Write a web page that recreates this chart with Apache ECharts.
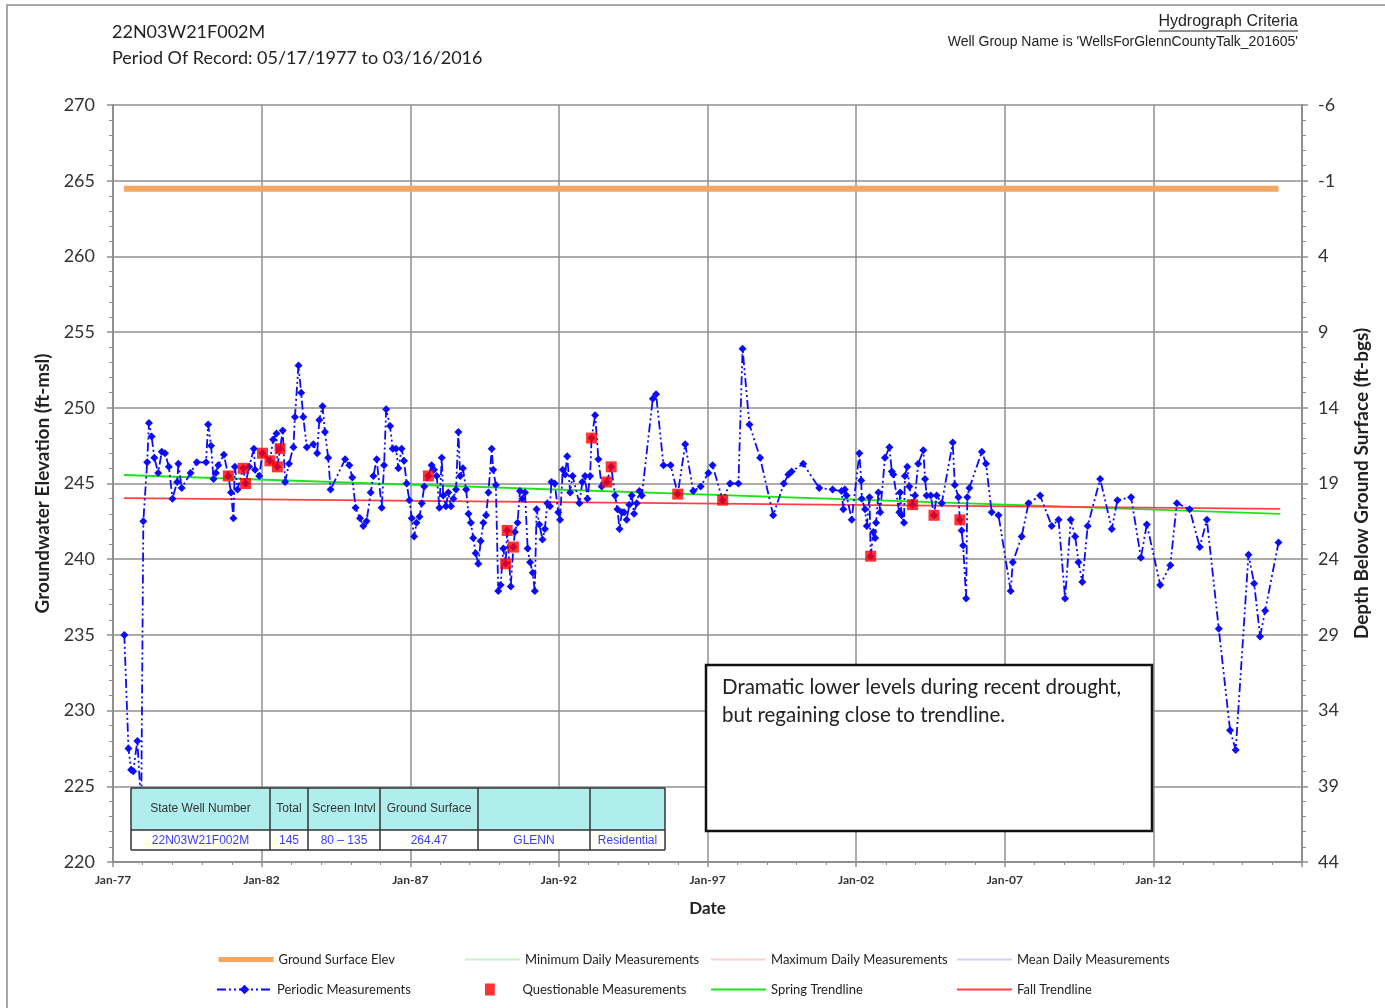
<!DOCTYPE html>
<html>
<head>
<meta charset="utf-8">
<title>22N03W21F002M Hydrograph</title>
<script src="https://cdn.jsdelivr.net/npm/echarts@6/dist/echarts.min.js"></script>
<style>
  html, body { margin: 0; padding: 0; background: #fff; }
  #chart { width: 1385px; height: 1008px; }
</style>
</head>
<body>
<div id="chart"></div>
<script>
// well info
const wellId = '22N03W21F002M'
const periodText = 'Period Of Record: 05/17/1977 to 03/16/2016'
const groupText = "Well Group Name is 'WellsForGlennCountyTalk_201605'"
const noteLines = ['Dramatic lower levels during recent drought,', 'but regaining close to trendline.']
const tableHeaders = ['State Well Number', 'Total', 'Screen Intvl', 'Ground Surface', '', '']
const tableValues = ['22N03W21F002M', '145', '80 \u2013 135', '264.47', 'GLENN', 'Residential']

// axis ticks
const xTickLabels = ['Jan-77', 'Jan-82', 'Jan-87', 'Jan-92', 'Jan-97', 'Jan-02', 'Jan-07', 'Jan-12', 'Jan-17']
const depthTickLabels = ['-6', '-1', '4', '9', '14', '19', '24', '29', '34', '39', '44']

// ground surface + trendlines (decimal years)
const groundSurfaceElev = 264.47
const recordDates = [1977.37, 2016.21]
const trendDates = [1977.37, 2016.27]
const springTrendElev = [245.56, 242.99]
const fallTrendElev = [244.04, 243.32]

// periodic measurements
const periodicDates = [
  1977.38, 1977.52, 1977.61, 1977.68, 1977.82, 1977.95, 1978.02, 1978.15, 1978.21, 1978.30,
  1978.39, 1978.52, 1978.64, 1978.75, 1978.88, 1979.00, 1979.16, 1979.20, 1979.31, 1979.61,
  1979.82, 1980.13, 1980.20, 1980.30, 1980.38, 1980.46, 1980.54, 1980.73, 1980.97, 1981.05,
  1981.10, 1981.19, 1981.58, 1981.74, 1981.78, 1981.92, 1982.39, 1982.50, 1982.71, 1982.79,
  1982.92, 1983.07, 1983.12, 1983.24, 1983.33, 1983.40, 1983.52, 1983.74, 1983.87, 1983.94,
  1984.05, 1984.13, 1984.24, 1984.32, 1984.81, 1984.95, 1985.05, 1985.16, 1985.31, 1985.42,
  1985.53, 1985.67, 1985.76, 1985.87, 1986.04, 1986.12, 1986.19, 1986.32, 1986.41, 1986.52,
  1986.60, 1986.71, 1986.79, 1986.88, 1986.97, 1987.05, 1987.13, 1987.21, 1987.31, 1987.39,
  1987.47, 1987.72, 1987.80, 1987.89, 1987.98, 1988.06, 1988.11, 1988.20, 1988.28, 1988.37,
  1988.45, 1988.54, 1988.62, 1988.68, 1988.77, 1988.88, 1988.96, 1989.04, 1989.12, 1989.20,
  1989.29, 1989.37, 1989.46, 1989.55, 1989.63, 1989.74, 1989.79, 1989.88, 1989.96, 1990.04,
  1990.13, 1990.38, 1990.52, 1990.61, 1990.69, 1990.77, 1990.86, 1990.95, 1991.03, 1991.12,
  1991.19, 1991.25, 1991.34, 1991.45, 1991.53, 1991.61, 1991.70, 1991.75, 1991.86, 1991.98,
  1992.04, 1992.13, 1992.21, 1992.28, 1992.38, 1992.46, 1992.69, 1992.79, 1992.88, 1992.96,
  1993.05, 1993.22, 1993.33, 1993.44, 1993.89, 1993.97, 1994.04, 1994.12, 1994.19, 1994.28,
  1994.37, 1994.45, 1994.53, 1994.62, 1994.71, 1994.79, 1995.16, 1995.27, 1995.52, 1995.76,
  1996.25, 1996.52, 1996.77, 1997.03, 1997.17, 1997.76, 1998.04, 1998.18, 1998.41, 1998.77,
  1999.21, 1999.57, 1999.72, 1999.83, 2000.22, 2000.76, 2001.21, 2001.51, 2001.57, 2001.62,
  2001.68, 2001.85, 2002.11, 2002.17, 2002.19, 2002.30, 2002.36, 2002.45, 2002.58, 2002.64,
  2002.67, 2002.75, 2002.81, 2002.97, 2003.12, 2003.20, 2003.25, 2003.45, 2003.48, 2003.53,
  2003.61, 2003.64, 2003.72, 2003.79, 2003.98, 2004.09, 2004.26, 2004.32, 2004.37, 2004.51,
  2004.71, 2004.88, 2005.25, 2005.32, 2005.44, 2005.55, 2005.60, 2005.70, 2005.74, 2005.81,
  2006.23, 2006.37, 2006.56, 2006.79, 2007.20, 2007.27, 2007.57, 2007.80, 2008.19, 2008.58,
  2008.81, 2009.03, 2009.22, 2009.37, 2009.48, 2009.61, 2009.79, 2010.21, 2010.60, 2010.79,
  2011.25, 2011.58, 2011.78, 2012.23, 2012.57, 2012.79, 2013.22, 2013.56, 2013.80, 2014.20,
  2014.58, 2014.77, 2015.20, 2015.39, 2015.59, 2015.76, 2016.21
]
const periodicElev = [
  235.0, 227.5, 226.1, 226.0, 228.0, 223.5, 242.5, 246.4, 249.0, 248.1,
  246.7, 245.7, 247.1, 247.0, 246.1, 244.0, 245.1, 246.3, 244.7, 245.7,
  246.4, 246.4, 248.9, 247.5, 245.3, 245.7, 246.2, 246.9, 244.4, 242.7,
  246.1, 244.6, 246.1, 247.3, 245.9, 245.5, 247.9, 248.3, 248.5, 245.1,
  246.3, 247.4, 249.4, 252.8, 251.0, 249.4, 247.4, 247.6, 247.0, 249.2,
  250.1, 248.4, 246.7, 244.6, 246.6, 246.2, 245.4, 243.4, 242.7, 242.2,
  242.5, 244.4, 245.5, 246.6, 243.4, 246.2, 249.9, 248.8, 247.3, 247.3,
  246.0, 247.3, 246.5, 245.0, 243.9, 242.7, 241.5, 242.4, 242.8, 243.7,
  244.8, 246.2, 245.9, 245.5, 243.4, 246.7, 244.2, 243.5, 244.4, 243.5,
  244.0, 244.6, 248.4, 245.5, 246.0, 244.6, 243.0, 242.4, 241.4, 240.4,
  239.7, 241.2, 242.4, 242.9, 244.4, 247.3, 245.9, 244.9, 237.9, 238.3,
  240.7, 238.2, 241.8, 242.4, 244.5, 244.0, 244.4, 240.7, 239.8, 239.1,
  237.9, 243.3, 242.3, 241.3, 242.0, 243.7, 243.5, 245.1, 245.0, 243.1,
  242.6, 245.9, 245.6, 246.8, 244.4, 245.5, 243.7, 245.1, 245.5, 244.0,
  245.5, 249.5, 246.6, 244.8, 244.2, 243.3, 242.0, 243.1, 243.1, 242.6,
  243.6, 244.2, 243.0, 243.7, 244.5, 244.2, 250.6, 250.9, 246.2, 246.2,
  247.6, 244.5, 244.8, 245.7, 246.2, 245.0, 245.0, 253.9, 248.9, 246.7,
  242.9, 245.0, 245.6, 245.8, 246.3, 244.7, 244.6, 244.5, 243.3, 244.6,
  244.2, 242.6, 247.0, 245.2, 244.0, 243.3, 242.2, 244.1, 241.8, 241.4,
  242.4, 244.4, 243.1, 246.7, 247.4, 245.8, 245.6, 243.1, 244.4, 242.9,
  242.4, 245.5, 246.1, 244.8, 244.2, 246.3, 247.2, 245.3, 244.2, 244.2,
  244.2, 243.7, 247.7, 244.9, 244.1, 241.9, 240.9, 237.4, 244.1, 244.7,
  247.1, 246.3, 243.1, 242.9, 237.9, 239.8, 241.5, 243.7, 244.2, 242.2,
  242.6, 237.4, 242.6, 241.5, 239.8, 238.5, 242.2, 245.3, 242.0, 243.9,
  244.1, 240.1, 242.3, 238.3, 239.6, 243.7, 243.3, 240.8, 242.6, 235.4,
  228.7, 227.4, 240.3, 238.4, 234.9, 236.6, 241.1
]

// questionable measurements
const questionableDates = [
  1980.88, 1981.38, 1981.46, 1982.03, 1982.28, 1982.53, 1982.62, 1987.61, 1990.21, 1990.26,
  1990.47, 1993.10, 1993.61, 1993.76, 1996.00, 1997.51, 2002.49, 2003.90, 2004.62, 2005.49
]
const questionableElev = [
  245.5, 246.0, 245.0, 247.0, 246.5, 246.1, 247.3, 245.5, 239.7, 241.9,
  240.8, 248.0, 245.1, 246.1, 244.3, 243.9, 240.2, 243.6, 242.9, 242.6
]

// the periodic line runs through every reading, questionable ones included
const allReadings = periodicDates.map((d, i) => [d, periodicElev[i]])
  .concat(questionableDates.map((d, i) => [d, questionableElev[i]]))
  .sort((a, b) => a[0] - b[0])

const calibri = 'Lato, "Open Sans", sans-serif'
const arialNarrow = '"Liberation Sans Narrow", "Liberation Sans", Arial, sans-serif'
const arial = '"Liberation Sans", Arial, sans-serif'
const gridColor = '#8f8f8f'

const chart = echarts.init(document.getElementById('chart'), null, { renderer: 'canvas' })

// measure text so the underline fits the heading
const measureCtx = document.createElement('canvas').getContext('2d')
function textWidth(txt, font) {
  measureCtx.font = font
  return measureCtx.measureText(txt).width
}

// table drawn on top of the plot
const colEdges = [131, 270, 308, 380, 478, 590, 665]
const tableTop = 788, headBottom = 830, tableBottom = 850
const tableGraphics = []
tableGraphics.push({
  type: 'rect', z: 100,
  shape: { x: colEdges[0], y: tableTop, width: colEdges[6] - colEdges[0], height: headBottom - tableTop },
  style: { fill: '#b0eded' }
})
tableGraphics.push({
  type: 'rect', z: 100,
  shape: { x: colEdges[0], y: headBottom, width: colEdges[6] - colEdges[0], height: tableBottom - headBottom },
  style: { fill: '#fff' }
})
tableHeaders.forEach((h, i) => {
  const cx = (colEdges[i] + colEdges[i + 1]) / 2
  tableGraphics.push({
    type: 'text', z: 102, x: cx, y: (tableTop + headBottom) / 2,
    style: { text: h, fill: '#333', font: '12px ' + arialNarrow, align: 'center', verticalAlign: 'middle' }
  })
  tableGraphics.push({
    type: 'text', z: 102, x: cx, y: (headBottom + tableBottom) / 2 + 1,
    style: { text: tableValues[i], fill: '#3a3aff', font: '12px ' + arialNarrow, align: 'center', verticalAlign: 'middle' }
  })
})
colEdges.forEach(x => {
  tableGraphics.push({
    type: 'line', z: 101,
    shape: { x1: x, y1: tableTop, x2: x, y2: tableBottom },
    style: { stroke: '#333', lineWidth: 1.5 }
  })
})
;[tableTop, headBottom, tableBottom].forEach(y => {
  tableGraphics.push({
    type: 'line', z: 101,
    shape: { x1: colEdges[0], y1: y, x2: colEdges[6], y2: y },
    style: { stroke: '#333', lineWidth: 1.5 }
  })
})

const headFont = '16px ' + arial
const headW = textWidth('Hydrograph Criteria', headFont)

// legend: one component per slot, two rows of four
const legendSlots = [
  { name: 'Ground Surface Elev', left: 216, top: 953, lineStyle: { width: 5 }, itemStyle: { opacity: 0 } },
  { name: 'Minimum Daily Measurements', left: 464, top: 953, itemStyle: { opacity: 0 } },
  { name: 'Maximum Daily Measurements', left: 710, top: 953, itemStyle: { opacity: 0 } },
  { name: 'Mean Daily Measurements', left: 956, top: 953, itemStyle: { opacity: 0 } },
  { name: 'Periodic Measurements', left: 216, top: 983 },
  { name: 'Questionable Measurements', left: 485, top: 983, icon: 'path://M0,0L9,0L9,11L0,11Z' },
  { name: 'Spring Trendline', left: 710, top: 983, itemStyle: { opacity: 0 } },
  { name: 'Fall Trendline', left: 956, top: 983, itemStyle: { opacity: 0 } }
]

const option = {
  animation: false,
  backgroundColor: '#fff',
  grid: { left: 113, right: 83, top: 105, bottom: 146, containLabel: false },
  legend: legendSlots.map(l => {
    const lg = {
      data: [l.name], left: l.left, top: l.top, itemWidth: 55, itemHeight: 12, itemGap: 0,
      selectedMode: false, padding: 0,
      textStyle: { fontFamily: calibri, fontSize: 13, color: '#222' }
    }
    if (l.icon) lg.icon = l.icon
    if (l.itemStyle) lg.itemStyle = l.itemStyle
    if (l.lineStyle) lg.lineStyle = l.lineStyle
    return lg
  }),
  xAxis: {
    type: 'value', min: 1977, max: 2017, interval: 5,
    name: 'Date', nameLocation: 'middle', nameGap: 38,
    nameTextStyle: { fontFamily: calibri, fontSize: 17, fontWeight: 'bold', color: '#222' },
    axisLine: { lineStyle: { color: gridColor, width: 2 } },
    axisTick: { lineStyle: { color: gridColor, width: 1.5 }, length: 5 },
    minorTick: { show: true, splitNumber: 5, length: 3, lineStyle: { color: gridColor } },
    axisLabel: {
      showMaxLabel: false, margin: 12,
      fontFamily: calibri, fontSize: 12, fontWeight: 'bold', color: '#333',
      formatter: v => xTickLabels[Math.round((v - 1977) / 5)]
    },
    splitLine: { show: true, lineStyle: { color: gridColor, width: 1.5 } }
  },
  yAxis: [
    {
      type: 'value', min: 220, max: 270, interval: 5,
      name: 'Groundwater Elevation (ft-msl)', nameLocation: 'middle', nameGap: 58,
      nameTextStyle: { fontFamily: calibri, fontSize: 19, fontWeight: 'bold', color: '#222' },
      axisLine: { show: true, lineStyle: { color: gridColor, width: 2 } },
      axisTick: { show: true, length: 6, lineStyle: { color: gridColor, width: 1.5 } },
      minorTick: { show: true, splitNumber: 5, length: 4, lineStyle: { color: gridColor } },
      axisLabel: { margin: 18, fontFamily: calibri, fontSize: 18, color: '#333' },
      splitLine: { show: true, lineStyle: { color: gridColor, width: 1.5 } }
    },
    {
      type: 'value', min: 220, max: 270, interval: 5, position: 'right',
      name: 'Depth Below Ground Surface (ft-bgs)', nameLocation: 'middle', nameGap: 50,
      nameTextStyle: { fontFamily: calibri, fontSize: 19, fontWeight: 'bold', color: '#222' },
      axisLine: { show: true, lineStyle: { color: gridColor, width: 2 } },
      axisTick: { show: true, length: 6, lineStyle: { color: gridColor, width: 1.5 } },
      minorTick: { show: true, splitNumber: 5, length: 4, lineStyle: { color: gridColor } },
      axisLabel: {
        margin: 16, fontFamily: calibri, fontSize: 18, color: '#333',
        formatter: v => depthTickLabels[Math.round((270 - v) / 5)]
      },
      splitLine: { show: false }
    }
  ],
  series: [
    {
      name: 'Ground Surface Elev', type: 'line', symbol: 'none', z: 3,
      color: '#f5a462',
      lineStyle: { color: '#f5a462', width: 6 },
      data: recordDates.map(d => [d, groundSurfaceElev])
    },
    { name: 'Minimum Daily Measurements', type: 'line', symbol: 'none', color: '#c8f2c8', lineStyle: { color: '#c8f2c8', width: 2 }, data: [] },
    { name: 'Maximum Daily Measurements', type: 'line', symbol: 'none', color: '#fbd0d0', lineStyle: { color: '#fbd0d0', width: 2 }, data: [] },
    { name: 'Mean Daily Measurements', type: 'line', symbol: 'none', color: '#d0d0f8', lineStyle: { color: '#d0d0f8', width: 2 }, data: [] },
    {
      name: 'Spring Trendline', type: 'line', symbol: 'none', z: 4,
      color: '#19e619',
      lineStyle: { color: '#19e619', width: 1.8 },
      data: trendDates.map((d, i) => [d, springTrendElev[i]])
    },
    {
      name: 'Fall Trendline', type: 'line', symbol: 'none', z: 4,
      color: '#ff4040',
      lineStyle: { color: '#ff4040', width: 1.8 },
      data: trendDates.map((d, i) => [d, fallTrendElev[i]])
    },
    {
      name: 'Periodic Measurements', type: 'line', z: 5,
      symbol: 'diamond', symbolSize: 8, showAllSymbol: true,
      color: '#0a0aff',
      itemStyle: { color: '#0a0aff' },
      lineStyle: { color: '#0a0aff', width: 1.8, type: [9, 3, 2, 3, 2, 3] },
      data: allReadings
    },
    {
      name: 'Questionable Measurements', type: 'scatter', z: 6,
      symbol: 'rect', symbolSize: 11,
      color: '#ff0000',
      itemStyle: { color: '#ff0000' },
      data: questionableDates.map((d, i) => [d, questionableElev[i]])
    }
  ],
  graphic: [
    {
      type: 'rect', z: -1, silent: true,
      shape: { x: 7, y: 5, width: 1400, height: 1020 },
      style: { fill: 'none', stroke: '#a8a8a8', lineWidth: 2 }
    },
    {
      type: 'text', x: 112, y: 32,
      style: { text: wellId, font: '18px ' + calibri, fill: '#222', verticalAlign: 'middle' }
    },
    {
      type: 'text', x: 112, y: 58,
      style: { text: periodText, font: '18px ' + calibri, fill: '#222', verticalAlign: 'middle' }
    },
    {
      type: 'text', x: 1298, y: 22,
      style: { text: 'Hydrograph Criteria', font: headFont, fill: '#222', align: 'right', verticalAlign: 'middle' }
    },
    {
      type: 'line',
      shape: { x1: 1298 - headW, y1: 31, x2: 1298, y2: 31 },
      style: { stroke: '#222', lineWidth: 1 }
    },
    {
      type: 'text', x: 1298, y: 42,
      style: { text: groupText, font: '14px ' + arial, fill: '#222', align: 'right', verticalAlign: 'middle' }
    },
    {
      type: 'rect', z: 100,
      shape: { x: 706, y: 665, width: 446, height: 166 },
      style: { fill: '#fff', stroke: '#111', lineWidth: 2.5 }
    },
    {
      type: 'text', z: 101, x: 722, y: 687,
      style: { text: noteLines[0], font: '20.5px ' + calibri, fill: '#222', verticalAlign: 'middle' }
    },
    {
      type: 'text', z: 101, x: 722, y: 715,
      style: { text: noteLines[1], font: '20.5px ' + calibri, fill: '#222', verticalAlign: 'middle' }
    }
  ].concat(tableGraphics)
}

chart.setOption(option)
</script>
</body>
</html>
